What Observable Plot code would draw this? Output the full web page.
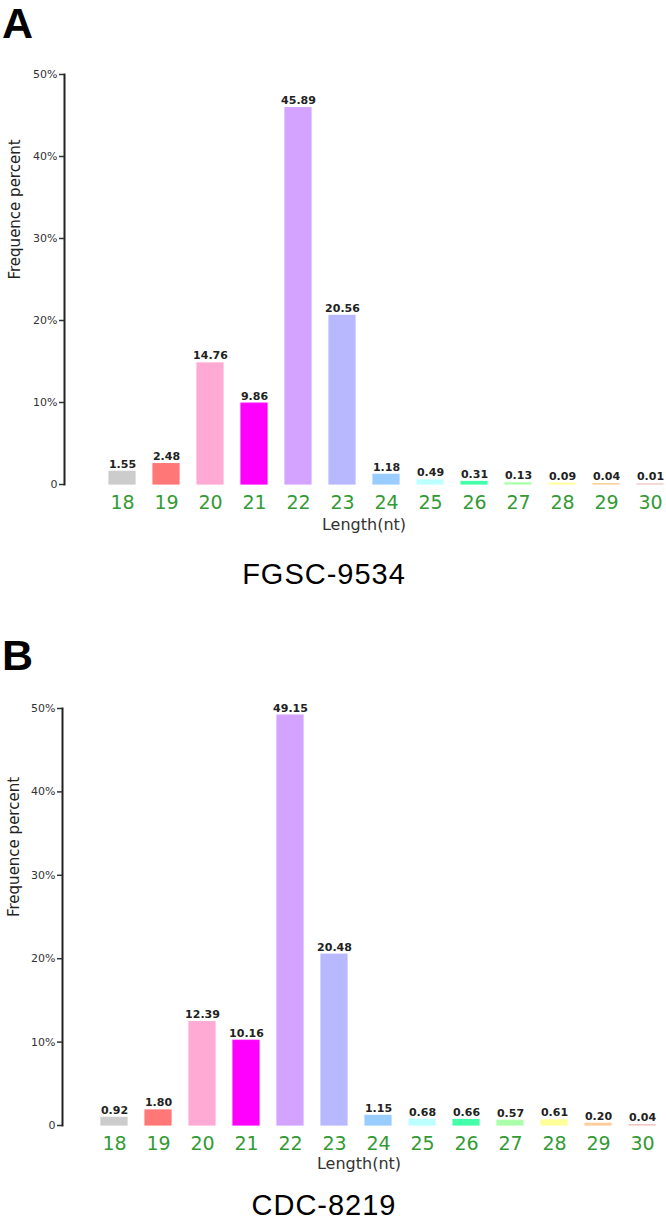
<!DOCTYPE html>
<html>
<head>
<meta charset="utf-8">
<script src="https://cdn.jsdelivr.net/npm/d3@7"></script>
<script src="https://cdn.jsdelivr.net/npm/@observablehq/plot@0.6"></script>
<style>
  body { margin: 0; background: #fff; }
  #wrap { position: relative; width: 666px; height: 1221px; background: #fff; overflow: hidden; }
  .panel { position: absolute; left: 2px; font-family: "Liberation Sans", Arial, sans-serif; font-weight: bold; font-size: 43px; color: #000; line-height: 1; }
  .title { position: absolute; left: 0; width: 648px; text-align: center; font-family: "Liberation Sans", Arial, sans-serif; font-size: 29px; letter-spacing: 1px; color: #000; line-height: 1; }
  .chart { position: absolute; left: 0; }
</style>
</head>
<body>
<div id="wrap">
  <div class="panel" style="top:2px">A</div>
  <div class="chart" id="chartA" style="top:60px"></div>
  <div class="title" style="top:560px">FGSC-9534</div>
  <div class="panel" style="top:634px">B</div>
  <div class="chart" id="chartB" style="top:694px"></div>
  <div class="title" style="top:1191px">CDC-8219</div>
</div>
<script>
const lengths = ["18","19","20","21","22","23","24","25","26","27","28","29","30"];
const valuesA = [1.55, 2.48, 14.76, 9.86, 45.89, 20.56, 1.18, 0.49, 0.31, 0.13, 0.09, 0.04, 0.01];
const valuesB = [0.92, 1.80, 12.39, 10.16, 49.15, 20.48, 1.15, 0.68, 0.66, 0.57, 0.61, 0.20, 0.04];
const barColors = ["#cccccc","#ff7777","#ffaad4","#ff00ff","#d4a3ff","#b8b8ff","#99ccff","#bbffff","#44ffaa","#aaffaa","#ffff99","#ffcc99","#f0c4c4"];
const yTicks = [0, 10, 20, 30, 40, 50];
const xLabel = "Length(nt)";
const yLabel = "Frequence percent";

function makeChart(values, opts) {
  const data = lengths.map((l, i) => ({len: l, v: values[i], c: barColors[i]}));
  return Plot.plot({
    width: 666,
    height: opts.height,
    marginLeft: opts.marginLeft,
    marginRight: opts.marginRight,
    marginTop: 14,
    marginBottom: opts.marginBottom,
    style: {background: "#fff", fontFamily: "'DejaVu Sans', Verdana, sans-serif"},
    x: {type: "band", domain: lengths, paddingInner: opts.pi, paddingOuter: opts.po, align: 1},
    y: {domain: [0, 50]},
    color: {type: "identity"},
    marks: [
      Plot.barY(data, {x: "len", y: "v", fill: "c", stroke: "c", strokeWidth: 1.2}),
      Plot.text(data, {x: "len", y: "v", text: d => d.v.toFixed(2), lineAnchor: "bottom", dy: -4,
        fontSize: 11, fontWeight: "bold", fill: "#222"}),
      Plot.frame({anchor: "left", stroke: "#222", strokeWidth: 2}),
      Plot.axisY({ticks: yTicks, tickFormat: d => d === 0 ? "0" : d + "%", tickSize: 5, tickPadding: 2,
        fontSize: 11, color: "#333", strokeWidth: 1.5, label: null}),
      Plot.axisX({tickSize: 0, tickPadding: 11, fontSize: 19, color: "#349a34", label: null}),
      Plot.text([yLabel], {text: d => d, frameAnchor: "left", rotate: -90, dx: opts.yLabelDx,
        fontSize: 15, fill: "#222"}),
      Plot.text([xLabel], {text: d => d, frameAnchor: "bottom", dy: opts.xLabelDy,
        fontSize: 16, fill: "#333"})
    ]
  });
}

const A = makeChart(valuesA, {height: 480, marginLeft: 64, marginRight: 3, marginBottom: 56, pi: 0.4, po: 0.356, yLabelDx: -49, xLabelDy: 45});
document.getElementById("chartA").appendChild(A);
const B = makeChart(valuesB, {height: 482, marginLeft: 62, marginRight: 11, marginBottom: 51, pi: 0.41, po: 0.353, yLabelDx: -48, xLabelDy: 43});
document.getElementById("chartB").appendChild(B);
</script>
</body>
</html>
